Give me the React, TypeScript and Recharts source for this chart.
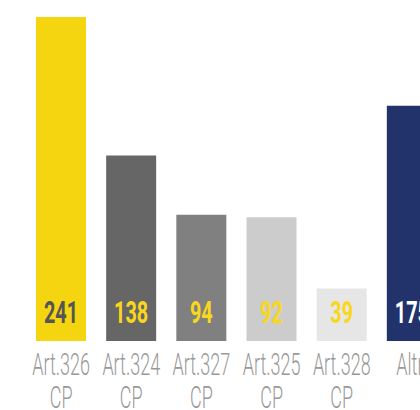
import React from "react";
import { BarChart, Bar, XAxis, YAxis, Cell, LabelList } from "recharts";

const categories = ["Art.326 CP", "Art.324 CP", "Art.327 CP", "Art.325 CP", "Art.328 CP", "Altri"];
const values = [241, 138, 94, 92, 39, 175];
const barColors = ["#F5D410", "#666666", "#808080", "#CCCCCC", "#E6E6E6", "#22336B"];
const valueColors = ["#555555", "#F9D71C", "#F9D71C", "#F9D71C", "#F9D71C", "#FFFFFF"];

const data = categories.map((name, i) => ({ name, value: values[i], idx: i }));

const FONT = "Roboto, 'DejaVu Sans', sans-serif";

const Tick = (props: any) => {
  const { x, y, payload } = props;
  const lines = String(payload.value).split(" ");
  return (
    <g>
      {lines.map((l: string, i: number) => (
        <text
          key={i}
          transform={`translate(${x},${y + 34 + i * 33}) scale(0.6,1.03)`}
          x={0}
          y={0}
          textAnchor="middle"
          fontFamily={FONT}
          fontWeight={300}
          fontSize={30}
          fill="#999999"
        >
          {l}
        </text>
      ))}
    </g>
  );
};

const ValueLabel = (props: any) => {
  const { x, y, width, height, value, index } = props;
  const cx = x + width / 2;
  const by = y + height - 18;
  return (
    <text
      transform={`translate(${cx},${by}) scale(0.62,1)`}
      x={0}
      y={0}
      textAnchor="middle"
      fontFamily={FONT}
      fontWeight={700}
      fontSize={32}
      fill={valueColors[index]}
    >
      {value}
    </text>
  );
};

export default function App() {
  return (
    <div style={{ position: "absolute", left: 0, top: 0 }}>
      <BarChart
        width={420}
        height={410}
        data={data}
        margin={{ top: 17, right: -27, left: 26, bottom: 0 }}
      >
        <XAxis
          dataKey="name"
          axisLine={false}
          tickLine={false}
          tickSize={0}
          tickMargin={0}
          height={69}
          interval={0}
          tick={<Tick />}
        />
        <YAxis hide domain={[0, 241]} />
        <Bar dataKey="value" barSize={50} isAnimationActive={false}>
          {data.map((d, i) => (
            <Cell key={i} fill={barColors[i]} />
          ))}
          <LabelList dataKey="value" content={<ValueLabel />} />
        </Bar>
      </BarChart>
    </div>
  );
}
